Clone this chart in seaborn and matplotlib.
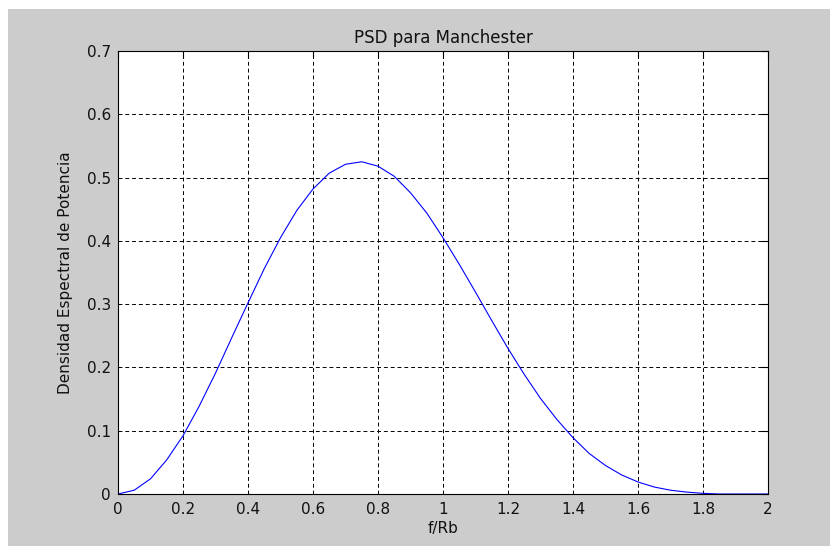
import matplotlib
matplotlib.use("Agg")
import matplotlib.pyplot as plt
import seaborn as sns
import pandas as pd
from matplotlib.patches import Rectangle

# Values (f/Rb vs PSD)
f_rb = [0.00, 0.05, 0.10, 0.15, 0.20, 0.25, 0.30, 0.35, 0.40, 0.45,
        0.50, 0.55, 0.60, 0.65, 0.70, 0.75, 0.80, 0.85, 0.90, 0.95,
        1.00, 1.05, 1.10, 1.15, 1.20, 1.25, 1.30, 1.35, 1.40, 1.45,
        1.50, 1.55, 1.60, 1.65, 1.70, 1.75, 1.80, 1.85, 1.90, 1.95, 2.00]
psd = [0.000, 0.006, 0.024, 0.054, 0.092, 0.139, 0.191, 0.247, 0.302, 0.356,
       0.405, 0.448, 0.482, 0.507, 0.521, 0.525, 0.518, 0.502, 0.476, 0.444,
       0.405, 0.363, 0.319, 0.274, 0.230, 0.189, 0.151, 0.118, 0.089, 0.064,
       0.045, 0.030, 0.019, 0.011, 0.006, 0.003, 0.001, 0.000, 0.000, 0.000, 0.000]
x_ticks = [0, 0.2, 0.4, 0.6, 0.8, 1.0, 1.2, 1.4, 1.6, 1.8, 2.0]
x_tick_labels = ["0", "0.2", "0.4", "0.6", "0.8", "1", "1.2", "1.4", "1.6", "1.8", "2"]
y_ticks = [0, 0.1, 0.2, 0.3, 0.4, 0.5, 0.6, 0.7]
y_tick_labels = ["0", "0.1", "0.2", "0.3", "0.4", "0.5", "0.6", "0.7"]

sns.set_style("white")
plt.rcParams["font.family"] = ["DejaVu Sans"]
FS = 11

df = pd.DataFrame({"f/Rb": f_rb, "PSD": psd})

fig = plt.figure(figsize=(8.30, 5.46), dpi=100, facecolor="white")
fig.patches.append(Rectangle((8 / 830, 0), 1 - 8 / 830, 1 - 9 / 546,
                             transform=fig.transFigure, facecolor="#cccccc",
                             edgecolor="none", zorder=-10))
ax = fig.add_axes([118 / 830, 1 - 494 / 546, (768 - 118) / 830, (494 - 51) / 546])
ax.set_facecolor("white")

sns.lineplot(data=df, x="f/Rb", y="PSD", ax=ax, color="#0000ff", linewidth=0.8)

ax.set_xlim(0, 2)
ax.set_ylim(0, 0.7)
ax.set_xticks(x_ticks)
ax.set_xticklabels(x_tick_labels)
ax.set_yticks(y_ticks)
ax.set_yticklabels(y_tick_labels)

ax.grid(True, color="black", linestyle=(0, (4, 3)), linewidth=0.7)
ax.set_axisbelow(True)
for s in ax.spines.values():
    s.set_visible(True)
    s.set_color("black")
    s.set_linewidth(0.8)

ax.tick_params(axis="both", direction="in", length=4.7, width=0.8, color="black",
               labelsize=FS, labelcolor="#111111", top=True, right=True)
ax.tick_params(axis="x", pad=6)
ax.tick_params(axis="y", pad=5)

ax.set_title("PSD para Manchester", fontsize=12, pad=6, color="#111111")
ax.set_xlabel("f/Rb", fontsize=FS, labelpad=3, color="#111111")
ax.set_ylabel("Densidad Espectral de Potencia", fontsize=FS, labelpad=10, color="#111111")

fig.savefig("out.png", dpi=100, facecolor=fig.get_facecolor())
